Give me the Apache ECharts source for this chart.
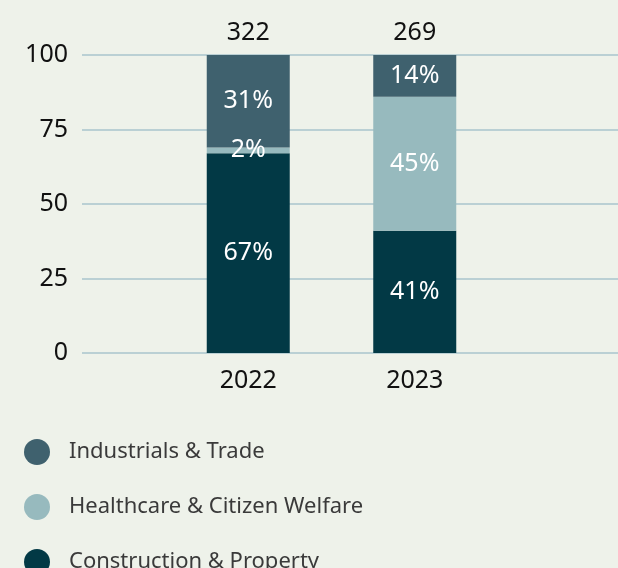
<!DOCTYPE html>
<html>
<head>
<meta charset="utf-8">
<script src="https://cdn.jsdelivr.net/npm/echarts@6/dist/echarts.min.js"></script>
<style>
  html, body { margin: 0; padding: 0; background: #eef2ea; }
  #chart { width: 618px; height: 568px; }
</style>
</head>
<body>
<div id="chart"></div>
<script>
var years = ['2022', '2023'];
var totals = ['322', '269'];
var construction = [67, 41];
var healthcare = [2, 45];
var industrials = [31, 14];
var yTicks = [0, 25, 50, 75, 100];
var legendNames = ['Industrials & Trade', 'Healthcare & Citizen Welfare', 'Construction & Property'];

var font = 'Noto Sans';
var chartDom = document.getElementById('chart');
var myChart = echarts.init(chartDom, null, { devicePixelRatio: 1 });

var inside = {
	show: true,
	position: 'inside',
	color: '#ffffff',
	fontSize: 25,
	fontFamily: font,
	formatter: '{c}%'
};

// one legend per row so they stack without wrapping
var legends = legendNames.map(function (name, i) {
	return {
		orient: 'vertical',
		left: 24,
		top: 439 + i * 55,
		padding: 0,
		icon: 'circle',
		itemWidth: 26,
		itemHeight: 26,
		selectedMode: false,
		data: [name],
		textStyle: { fontSize: 22, color: '#3a3a3a', fontFamily: font, padding: [0, 0, 0, 14] }
	};
});

var option = {
	backgroundColor: '#eef2ea',
	animation: false,
	legend: legends,
	grid: [
		// bars
		{ left: 165, right: 120, top: 55, bottom: 215 },
		// full width gridlines + y labels
		{ left: 82, right: 0, top: 55, bottom: 215 }
	],
	xAxis: [
		{
			type: 'category', gridIndex: 0, data: years,
			axisLine: { show: false }, axisTick: { show: false },
			axisLabel: { fontSize: 25, color: '#111', fontFamily: font, margin: 15 }
		},
		{
			type: 'category', gridIndex: 0, data: totals, position: 'top',
			axisLine: { show: false }, axisTick: { show: false },
			axisLabel: { fontSize: 25, color: '#111', fontFamily: font, margin: 10 }
		},
		{
			type: 'value', gridIndex: 1, show: false
		}
	],
	yAxis: [
		{
			type: 'value', gridIndex: 0, min: 0, max: 100, interval: 25, show: false
		},
		{
			type: 'value', gridIndex: 1, min: yTicks[0], max: yTicks[yTicks.length - 1], interval: 25,
			axisLine: { show: false }, axisTick: { show: false },
			axisLabel: { fontSize: 25, color: '#111', fontFamily: font, margin: 14 },
			splitLine: { lineStyle: { color: '#a9c5cc', width: 1.5 } }
		}
	],
	series: [
		{
			name: 'Construction & Property', type: 'bar', stack: 'total',
			xAxisIndex: 0, yAxisIndex: 0, barWidth: 83,
			itemStyle: { color: '#023945' }, label: inside, data: construction
		},
		{
			name: 'Healthcare & Citizen Welfare', type: 'bar', stack: 'total',
			xAxisIndex: 0, yAxisIndex: 0, barWidth: 83,
			itemStyle: { color: '#97babe' }, label: inside, data: healthcare
		},
		{
			name: 'Industrials & Trade', type: 'bar', stack: 'total',
			xAxisIndex: 0, yAxisIndex: 0, barWidth: 83,
			itemStyle: { color: '#3f616e' }, label: inside, data: industrials
		}
	]
};

option && myChart.setOption(option);
</script>
</body>
</html>
